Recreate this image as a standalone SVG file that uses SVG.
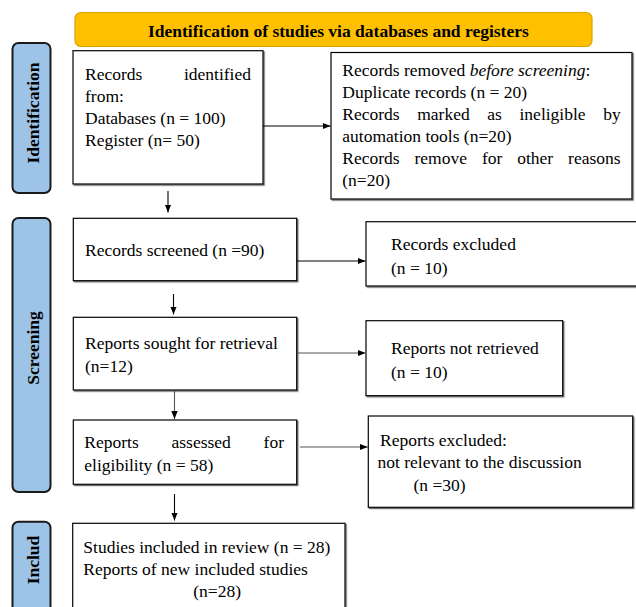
<svg xmlns="http://www.w3.org/2000/svg" width="636" height="607" viewBox="0 0 636 607">
<style>
  text { font-family: "Liberation Serif", "Times New Roman", serif; font-size: 17.5px; fill: #000; }
  .b { font-weight: bold; }
  .box { fill: #fff; stroke: #000; stroke-width: 1.2; filter: url(#sh); }
  .side { fill: #9DC3E6; stroke: #1a1a1a; stroke-width: 2; }
  .ban { fill: #FFC000; stroke: #D9A300; stroke-width: 1.2; }
  .con { stroke: #000; stroke-width: 1.1; fill: none; marker-end: url(#ah); }
  .gray { stroke: #555; }
</style>
<defs>
  <marker id="ah" viewBox="0 0 10 10" refX="10" refY="5" markerWidth="8" markerHeight="8" markerUnits="userSpaceOnUse" orient="auto">
    <path d="M0,1 L10,5 L0,9 z" fill="#000"/>
  </marker>
  <filter id="sh" x="-5%" y="-5%" width="110%" height="110%">
    <feDropShadow dx="1.2" dy="1.2" stdDeviation="0.4" flood-color="#555" flood-opacity="0.9"/>
  </filter>
</defs>
<rect width="636" height="607" fill="#fff"/>

<g id="banner">
  <rect class="ban" x="75" y="12.5" width="517" height="34" rx="6"/>
  <text class="b" x="338.4" y="36.7" text-anchor="middle">Identification of studies via databases and registers</text>
</g>

<g id="side-identification">
  <rect class="side" x="12.5" y="43" width="38" height="150" rx="6"/>
  <text class="b" transform="translate(39.3,113) rotate(-90)" text-anchor="middle">Identification</text>
</g>
<g id="side-screening">
  <rect class="side" x="12.5" y="218" width="38" height="274" rx="6"/>
  <text class="b" transform="translate(39.3,348) rotate(-90)" text-anchor="middle">Screening</text>
</g>
<g id="side-included">
  <rect class="side" x="12.5" y="521.7" width="38" height="110" rx="6"/>
  <text class="b" transform="translate(39.3,560) rotate(-90)" text-anchor="middle">Includ</text>
</g>

<g id="records-identified">
  <rect class="box" x="73" y="50.7" width="190" height="133.3"/>
  <text x="85" y="80">Records</text>
  <text x="251" y="80" text-anchor="end">identified</text>
  <text x="85" y="102">from:</text>
  <text x="85" y="124">Databases (n = 100)</text>
  <text x="85" y="146">Register (n= 50)</text>
</g>

<g id="records-removed">
  <rect class="box" x="331" y="52.5" width="301" height="146.5"/>
  <text x="342.3" y="76">Records removed <tspan font-style="italic">before screening</tspan>:</text>
  <text x="342.3" y="98">Duplicate records (n = 20)</text>
  <text y="120"><tspan x="342.3">Records</tspan><tspan x="417.2">marked</tspan><tspan x="487.3">as</tspan><tspan x="519.5">ineligible</tspan><tspan x="603.2">by</tspan></text>
  <text x="342.3" y="142">automation tools (n=20)</text>
  <text y="164"><tspan x="342.3">Records</tspan><tspan x="414.5">remove</tspan><tspan x="481.9">for</tspan><tspan x="517.2">other</tspan><tspan x="568.1">reasons</tspan></text>
  <text x="342.3" y="186">(n=20)</text>
</g>

<g id="records-screened">
  <rect class="box" x="73.3" y="218.3" width="223.4" height="62.4"/>
  <text x="85" y="256">Records screened (n =90)</text>
</g>

<g id="records-excluded">
  <rect class="box" x="366" y="221.7" width="280" height="64.3"/>
  <text x="391" y="250">Records excluded</text>
  <text x="391" y="274">(n = 10)</text>
</g>

<g id="reports-sought">
  <rect class="box" x="73.3" y="317.3" width="223.4" height="72.7"/>
  <text x="85" y="349.3">Reports sought for retrieval</text>
  <text x="85" y="371.7">(n=12)</text>
</g>

<g id="reports-not-retrieved">
  <rect class="box" x="366" y="320.7" width="196.7" height="75"/>
  <text x="391" y="354">Reports not retrieved</text>
  <text x="391" y="378">(n = 10)</text>
</g>

<g id="reports-assessed">
  <rect class="box" x="73.3" y="420" width="223.4" height="64.3"/>
  <text y="448.3"><tspan x="84.3">Reports</tspan><tspan x="171.5">assessed</tspan><tspan x="263.6">for</tspan></text>
  <text x="84.3" y="471">eligibility (n = 58)</text>
</g>

<g id="reports-excluded">
  <rect class="box" x="368.3" y="416" width="264.4" height="91.3"/>
  <text x="380" y="446">Reports excluded:</text>
  <text x="377.5" y="468">not relevant to the discussion</text>
  <text x="413.5" y="490.5">(n =30)</text>
</g>

<g id="studies-included">
  <rect class="box" x="72.7" y="523.3" width="272.3" height="100"/>
  <text x="83.3" y="553.3">Studies included in review (n = 28)</text>
  <text x="83.3" y="575">Reports of new included studies</text>
  <text x="193.3" y="597.3">(n=28)</text>
</g>

<g id="connectors">
  <line class="con" x1="263" y1="126" x2="330.5" y2="126"/>
  <line class="con" x1="168" y1="191" x2="168" y2="212.5"/>
  <line class="con" x1="296.7" y1="261" x2="365.5" y2="261"/>
  <line class="con" x1="173.5" y1="294" x2="173.5" y2="314.5"/>
  <line class="con gray" x1="296.7" y1="353" x2="365.5" y2="353"/>
  <line class="con gray" x1="174.5" y1="391" x2="174.5" y2="419"/>
  <line class="con gray" x1="300" y1="447" x2="367.8" y2="447"/>
  <line class="con" x1="174.5" y1="494" x2="174.5" y2="520.5"/>
</g>
</svg>
